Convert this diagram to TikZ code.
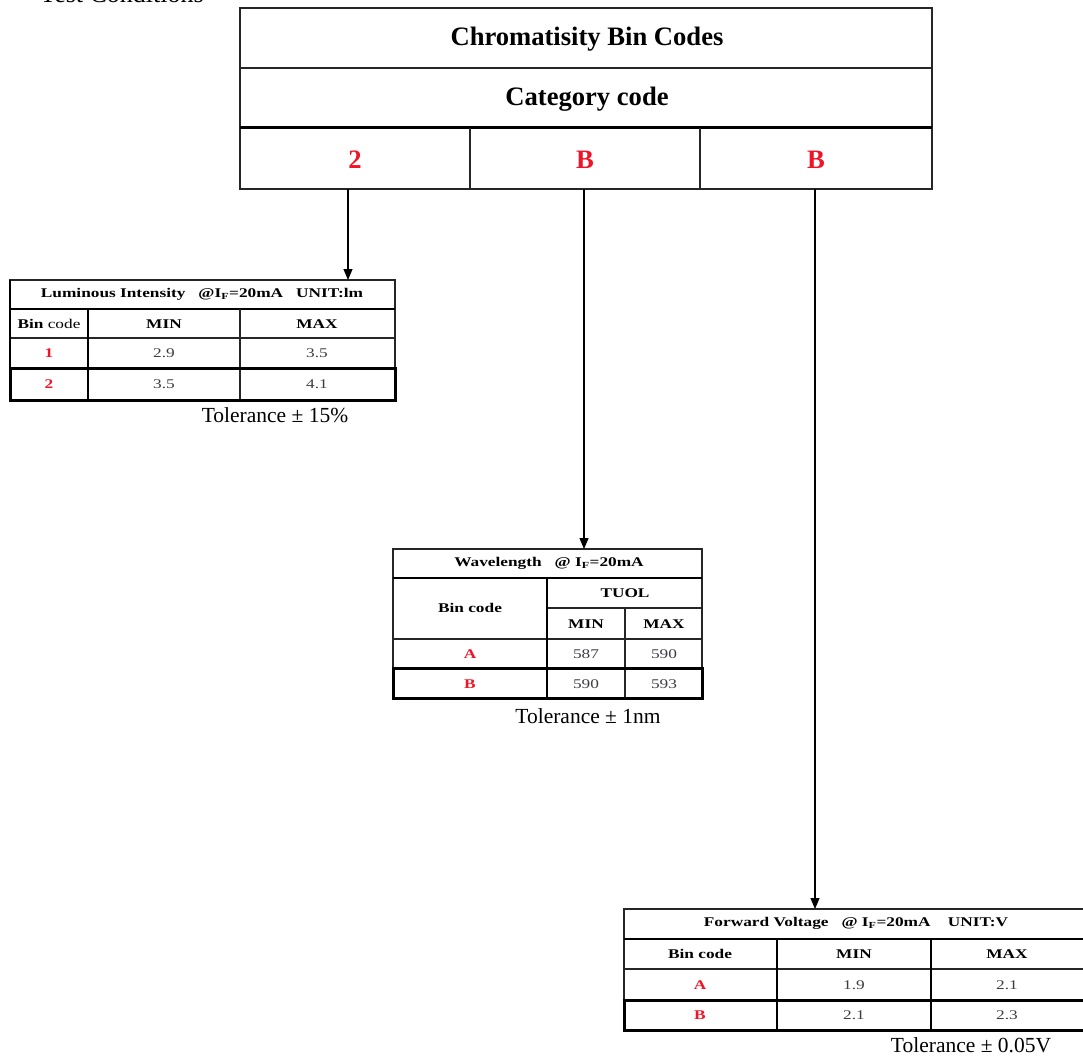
\documentclass[tikz,border=0pt]{standalone}
\usepackage{fontspec}
\setmainfont{Liberation Serif}
\newfontfamily\tabf{Liberation Serif}[FakeStretch=1.3]
\usetikzlibrary{arrows.meta}
\definecolor{redc}{RGB}{240,20,40}
\definecolor{numc}{RGB}{60,60,70}
\begin{document}
\begin{tikzpicture}[x=1pt,y=-1pt,
  thinl/.style={line width=1.2pt,black!85},
  thickl/.style={line width=3pt,black},
  bigt/.style={font=\fontsize{26.6}{28}\selectfont\bfseries,inner sep=0pt},
  redbig/.style={bigt,text=redc},
  tt/.style={font=\tabf\fontsize{13.3}{14}\selectfont\bfseries,inner sep=0pt},
  tn/.style={font=\tabf\fontsize{13.3}{14}\selectfont,inner sep=0pt,text=numc},
  tr/.style={font=\tabf\fontsize{13.3}{14}\selectfont\bfseries,inner sep=0pt,text=redc},
  tol/.style={font=\fontsize{21.5}{23}\selectfont,inner sep=0pt},
  arr/.style={line width=1.2pt,-{Triangle[length=11pt,width=9pt]}}]
\useasboundingbox (0,0) rectangle (1083,1059);
\clip (0,0) rectangle (1083,1059);
% Test conditions (cut off at top)
\node[font=\fontsize{26}{28}\selectfont,anchor=base west,inner sep=0pt] (tc) at (40,3) {Test Conditions};
% main table
\draw[thinl] (240,8) rectangle (932,189);
\draw[thinl] (240,68) -- (932,68);
\draw[thickl] (240,128) -- (932,128);
\draw[thinl] (470,128) -- (470,189);
\draw[thinl] (700,128) -- (700,189);
\node[bigt] (title) at (587,39) {Chromatisity Bin Codes};
\node[bigt] (cat) at (587,99) {Category code};
\node[redbig] (c1) at (355,160) {2};
\node[redbig] (c2) at (585,160) {B};
\node[redbig] (c3) at (816,160) {B};
\coordinate (m1) at (348,189);
\coordinate (m2) at (584,189);
\coordinate (m3) at (815,189);
% Luminous intensity table
\draw[thinl] (10,280) rectangle (395,368);
\draw[line width=2pt] (10,309) -- (395,309);
\draw[thinl] (10,338) -- (395,338);
\draw[line width=2.5pt] (88,309) -- (88,400);
\draw[thinl] (240,309) -- (240,400);
\draw[line width=2pt] (10,280) -- (10,368);
\draw[thickl] (10,368) rectangle (395,400);
\node[tt] (lh) at (202,294) {Luminous Intensity \ \ @I\textsubscript{F}=20mA \ \ UNIT:lm};
\node[tt] (lb) at (49,324) {Bin {\mdseries code}};
\node[tt] (lmin) at (164,324) {MIN};
\node[tt] (lmax) at (317,324) {MAX};
\node[tr] (l1) at (49,353) {1};
\node[tn] (l1a) at (164,353) {2.9};
\node[tn] (l1b) at (317,353) {3.5};
\node[tr] (l2) at (49,384) {2};
\node[tn] (l2a) at (164,384) {3.5};
\node[tn] (l2b) at (317,384) {4.1};
\node[tol] (ltol) at (275,415) {Tolerance ± 15\%};
\coordinate (t1) at (348,280);
% Wavelength table
\draw[thinl] (393,549) rectangle (702,668);
\draw[line width=2.5pt] (393,578) -- (702,578);
\draw[thinl] (547,608) -- (702,608);
\draw[thinl] (393,639) -- (702,639);
\draw[line width=2.5pt] (547,578) -- (547,698);
\draw[thinl] (625,608) -- (625,698);
\draw[thickl] (393,668) rectangle (702,698);
\node[tt] (wh) at (549,563) {Wavelength \ \ @ I\textsubscript{F}=20mA};
\node[tt] (wb) at (470,608) {Bin code};
\node[tt] (wtu) at (625,593) {TUOL};
\node[tt] (wmin) at (586,624) {MIN};
\node[tt] (wmax) at (664,624) {MAX};
\node[tr] (wa) at (470,654) {A};
\node[tn] (waa) at (586,654) {587};
\node[tn] (wab) at (664,654) {590};
\node[tr] (wbb) at (470,684) {B};
\node[tn] (wba) at (586,684) {590};
\node[tn] (wbc) at (664,684) {593};
\node[tol] (wtol) at (588,716) {Tolerance ± 1nm};
\coordinate (t2) at (584,549);
% Forward voltage table
\draw[thinl] (624,909) rectangle (1090,1000);
\draw[line width=2.5pt] (624,939) -- (1090,939);
\draw[thinl] (624,969) -- (1090,969);
\draw[line width=2.5pt] (777,939) -- (777,1030);
\draw[line width=2.5pt] (931,939) -- (931,1030);
\draw[thickl] (624,1000) rectangle (1090,1030);
\node[tt] (fh) at (856,923) {Forward Voltage \ \ @ I\textsubscript{F}=20mA \ \ \ UNIT:V};
\node[tt] (fb) at (700,954) {Bin code};
\node[tt] (fmin) at (854,954) {MIN};
\node[tt] (fmax) at (1007,954) {MAX};
\node[tr] (fa) at (700,985) {A};
\node[tn] (faa) at (854,985) {1.9};
\node[tn] (fab) at (1007,985) {2.1};
\node[tr] (fbb) at (700,1015) {B};
\node[tn] (fba) at (854,1015) {2.1};
\node[tn] (fbc) at (1007,1015) {2.3};
\node[tol] (ftol) at (971,1045) {Tolerance ± 0.05V};
\coordinate (t3) at (815,909);
% arrows
\draw[arr] (m1) -- (t1);
\draw[arr] (m2) -- (t2);
\draw[arr] (m3) -- (t3);
\end{tikzpicture}
\end{document}
